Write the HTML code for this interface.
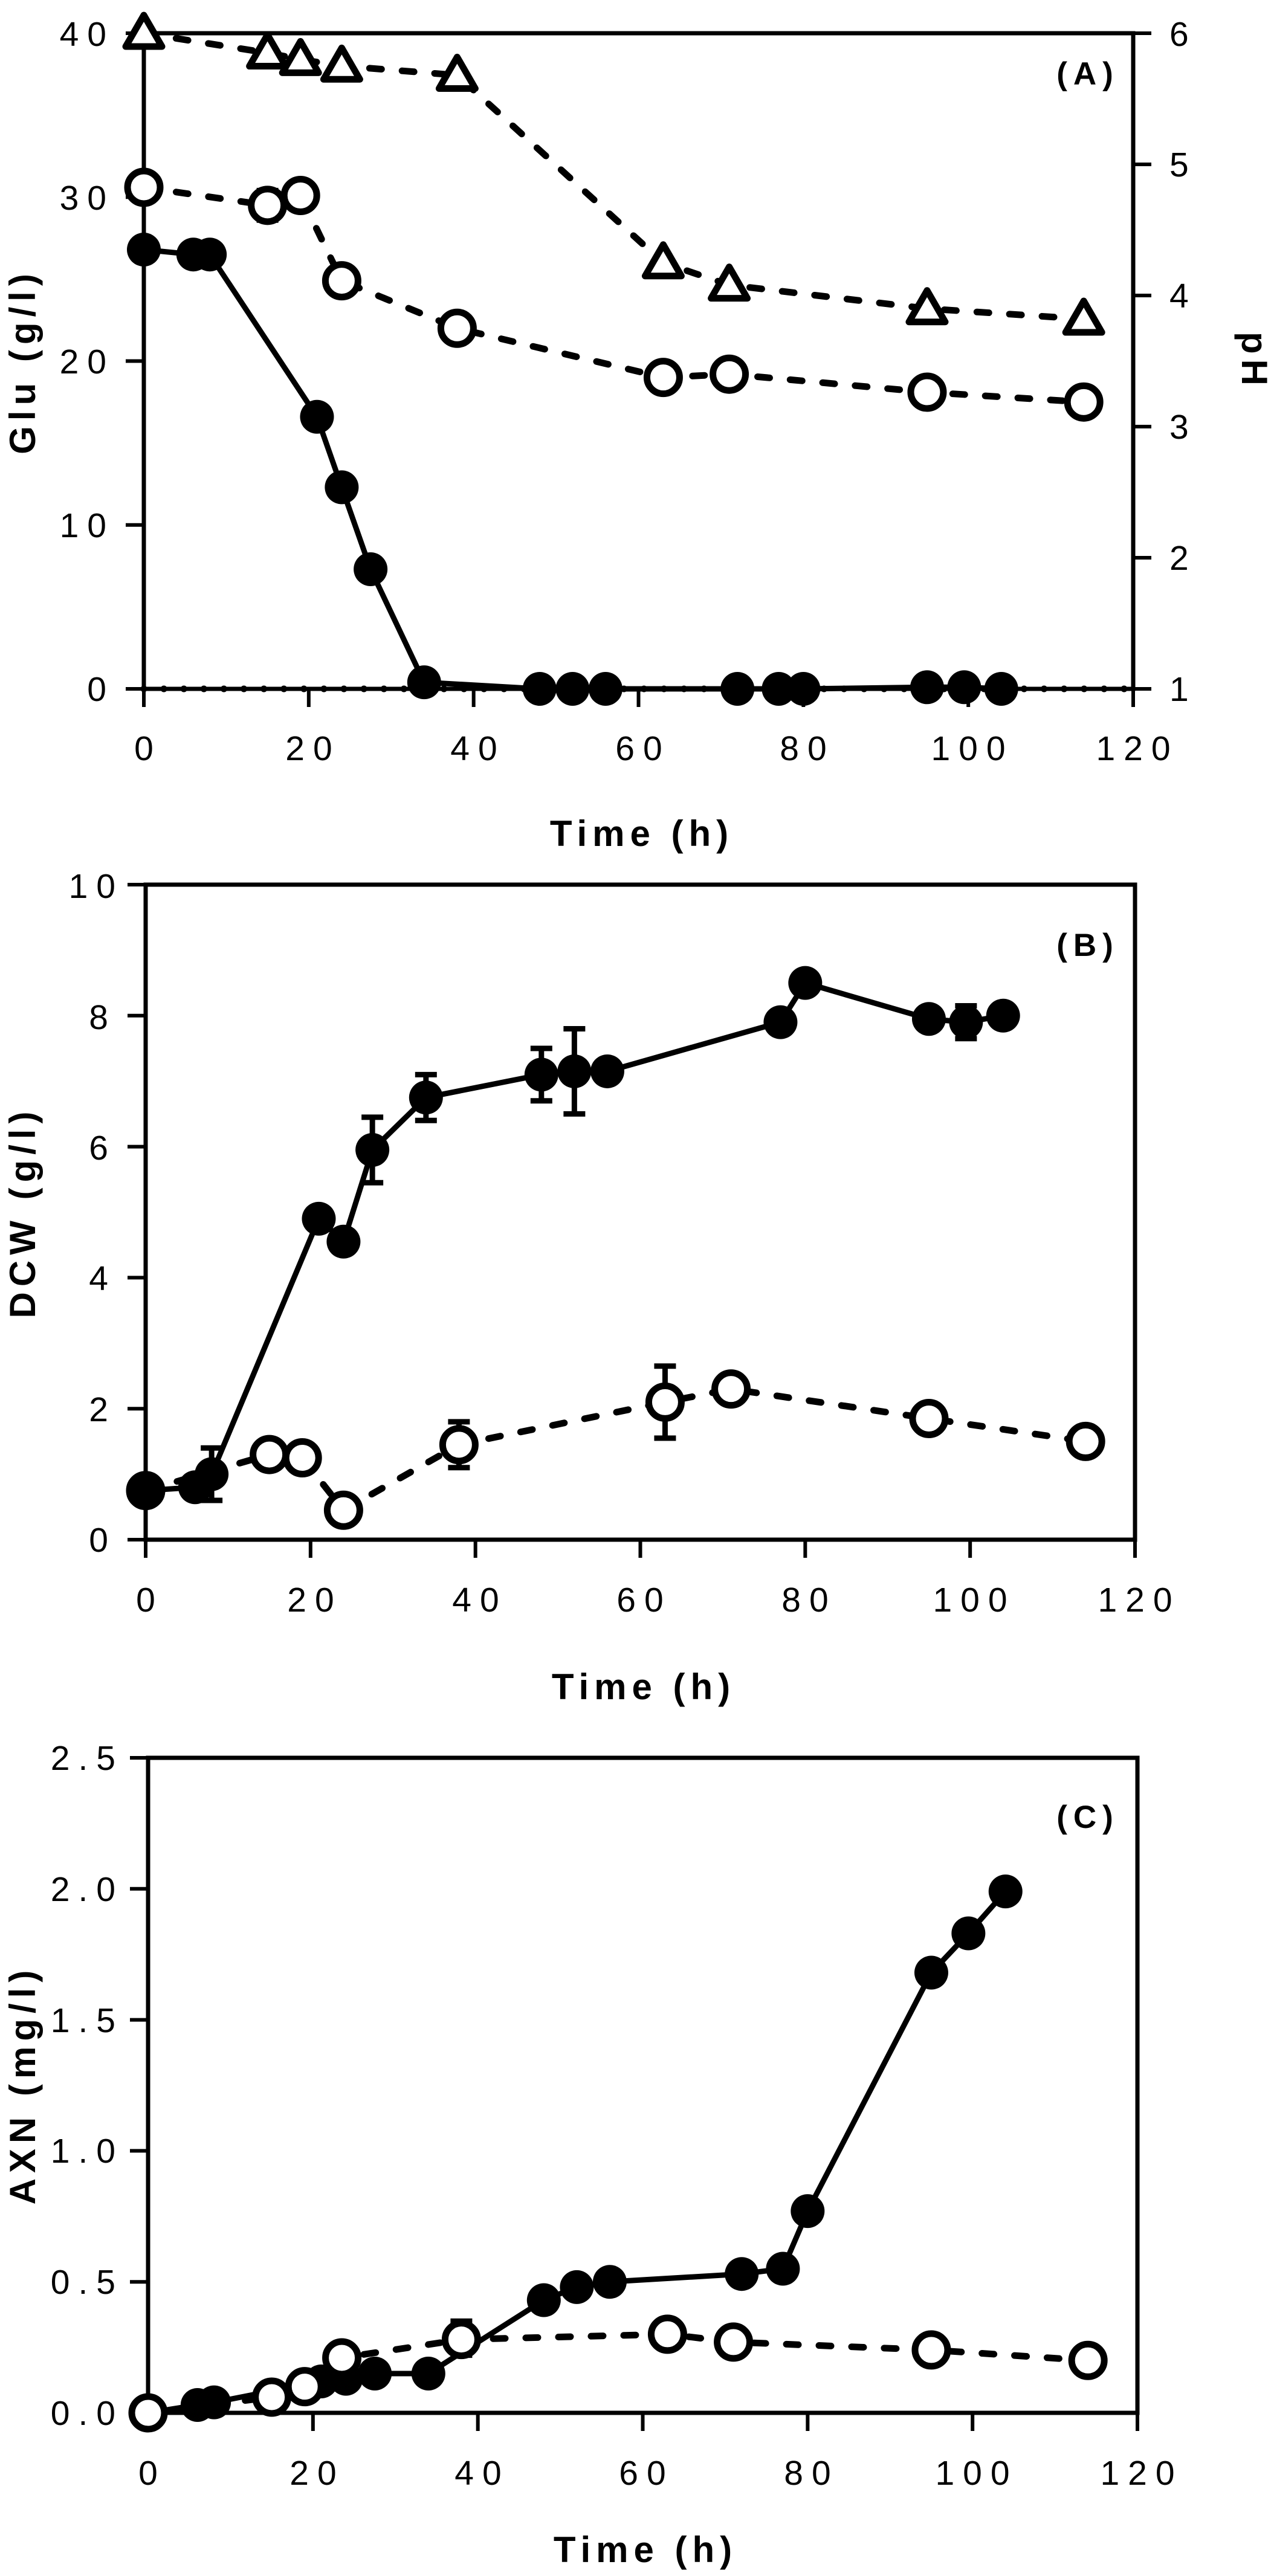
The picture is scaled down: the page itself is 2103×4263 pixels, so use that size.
<!DOCTYPE html>
<html><head><meta charset="utf-8"><style>
html,body{margin:0;padding:0;background:#fff}
svg{display:block}
text{font-family:"Liberation Sans",sans-serif;fill:#000}
.t{font-size:57px;letter-spacing:14px}
.b{font-size:60px;font-weight:bold;letter-spacing:9px}
.p{font-size:53px;font-weight:bold;letter-spacing:10px}
</style></head><body>
<svg id="s" width="2103" height="4263" viewBox="0 0 2103 4263" xmlns="http://www.w3.org/2000/svg">
<rect width="2103" height="4263" fill="#fff"/>
<g id="g"></g>
<g class="t" text-anchor="end">
<text x="190" y="1160">0</text><text x="190" y="889">10</text><text x="190" y="618">20</text><text x="190" y="347">30</text><text x="190" y="76">40</text>
</g>
<g class="t" text-anchor="start">
<text x="1935" y="1160">1</text><text x="1935" y="943">2</text><text x="1935" y="726">3</text><text x="1935" y="509">4</text><text x="1935" y="292">5</text><text x="1935" y="76">6</text>
</g>
<g class="t" text-anchor="middle">
<text x="245" y="1258">0</text><text x="518" y="1258">20</text><text x="791" y="1258">40</text><text x="1064" y="1258">60</text><text x="1336" y="1258">80</text><text x="1609" y="1258">100</text><text x="1882" y="1258">120</text>
</g>
<text class="b" x="1062" y="1400" text-anchor="middle">Time (h)</text>
<text class="b" transform="translate(58,598) rotate(-90)" text-anchor="middle">Glu (g/l)</text>
<text class="b" transform="translate(2055,598) rotate(90)" text-anchor="middle">pH</text>
<text class="p" x="1800" y="140" text-anchor="middle">(A)</text>

<g class="t" text-anchor="end">
<text x="193" y="2568">0</text><text x="193" y="2352">2</text><text x="193" y="2135">4</text><text x="193" y="1919">6</text><text x="193" y="1703">8</text><text x="205" y="1486">10</text>
</g>
<g class="t" text-anchor="middle">
<text x="248" y="2667">0</text><text x="521" y="2667">20</text><text x="794" y="2667">40</text><text x="1066" y="2667">60</text><text x="1339" y="2667">80</text><text x="1612" y="2667">100</text><text x="1885" y="2667">120</text>
</g>
<text class="b" x="1065" y="2812" text-anchor="middle">Time (h)</text>
<text class="b" transform="translate(58,2006) rotate(-90)" text-anchor="middle">DCW (g/l)</text>
<text class="p" x="1800" y="1582" text-anchor="middle">(B)</text>

<g class="t" text-anchor="end">
<text x="205" y="4013">0.0</text><text x="205" y="3796">0.5</text><text x="205" y="3579">1.0</text><text x="205" y="3363">1.5</text><text x="205" y="3146">2.0</text><text x="205" y="2929">2.5</text>
</g>
<g class="t" text-anchor="middle">
<text x="252" y="4112">0</text><text x="525" y="4112">20</text><text x="798" y="4112">40</text><text x="1070" y="4112">60</text><text x="1343" y="4112">80</text><text x="1616" y="4112">100</text><text x="1889" y="4112">120</text>
</g>
<text class="b" x="1068" y="4240" text-anchor="middle">Time (h)</text>
<text class="b" transform="translate(58,3450) rotate(-90)" text-anchor="middle">AXN (mg/l)</text>
<text class="p" x="1800" y="3025" text-anchor="middle">(C)</text>
</svg>
<script>
var NS="http://www.w3.org/2000/svg",G=document.getElementById("g");
function el(t,a){var e=document.createElementNS(NS,t);for(var k in a)e.setAttribute(k,a[k]);G.appendChild(e);return e;}
function panel(P){
 var X=function(x){return P.x0+(P.x1-P.x0)*x/120};
 P.X=X;
 el("path",{d:"M"+P.x0+","+P.yt+"V"+P.yb+"H"+P.x1+"V"+P.yt+"Z",fill:"none",stroke:"#000","stroke-width":7});
 for(var i=0;i<=6;i++){var x=X(i*20);el("line",{x1:x,y1:P.yb,x2:x,y2:P.yb+30,stroke:"#000","stroke-width":6});}
 for(var i=0;i<P.ny;i++){var y=P.yb-(P.yb-P.yt)*i/(P.ny-1);el("line",{x1:P.x0-30,y1:y,x2:P.x0,y2:y,stroke:"#000","stroke-width":6});}
 if(P.right){for(var i=0;i<6;i++){var y=P.yb-(P.yb-P.yt)*i/5;el("line",{x1:P.x1,y1:y,x2:P.x1+30,y2:y,stroke:"#000","stroke-width":6});}}
}
function series(P,data,Y,style,marker){
 var pts=data.map(function(d){return [P.X(d[0]),Y(d[1])]});
 var a={points:pts.map(function(p){return p.join(",")}).join(" "),fill:"none",stroke:"#000","stroke-width":style=="solid"?9:11,"stroke-linecap":"round","stroke-linejoin":"round"};
 if(style=="dash")a["stroke-dasharray"]="20 34";
 el("polyline",a);
 data.forEach(function(d,i){
  var p=pts[i];
  if(d[2]!=null){var y1=Y(d[2]),y2=Y(d[3]);el("path",{d:"M"+p[0]+","+y1+"V"+y2+"M"+(p[0]-18)+","+y1+"h36M"+(p[0]-18)+","+y2+"h36",stroke:"#000","stroke-width":9,fill:"none"});}
  if(marker=="f")el("circle",{cx:p[0],cy:p[1],r:28,fill:"#000"});
  else if(marker=="o")el("circle",{cx:p[0],cy:p[1],r:27,fill:"#fff",stroke:"#000","stroke-width":11});
  else if(marker=="t")el("path",{d:"M"+p[0]+","+(p[1]-30)+"L"+(p[0]+30)+","+(p[1]+22)+"L"+(p[0]-30)+","+(p[1]+22)+"Z",fill:"#fff",stroke:"#000","stroke-width":11,"stroke-linejoin":"round"});
 });
}
var A={x0:238,x1:1875,yt:55,yb:1140,ny:5,right:true};panel(A);
var YA=function(v){return 1140-v*27.125},YP=function(v){return 1140-(v-1)*217};
el("line",{x1:238,y1:1140,x2:1875,y2:1140,stroke:"#000","stroke-width":11,"stroke-dasharray":"0.1 33","stroke-linecap":"round"});
series(A,[[0,6.0],[15,5.85],[19,5.8],[24,5.75],[38,5.68],[63,4.25],[71,4.08],[95,3.9],[114,3.82]],YP,"dash","t");
series(A,[[0,30.6],[15,29.5,28.6,30.4],[19,30.1],[24,24.9],[38,22],[63,19],[71,19.2],[95,18.1],[114,17.5]],YA,"dash","o");
series(A,[[0,26.8],[6,26.5],[8,26.5],[21,16.6],[24,12.3],[27.5,7.3],[34,0.4],[48,0],[52,0],[56,0],[72,0],[77,0],[80,0],[95,0.1],[99.5,0.1],[104,0]],YA,"solid","f");
var B={x0:241,x1:1878,yt:1464,yb:2548,ny:6};panel(B);
var YB=function(v){return 2548-v*108.4};
series(B,[[0,0.75],[15,1.3],[19,1.25],[24,0.45],[38,1.45,1.1,1.8],[63,2.1,1.55,2.65],[71,2.3],[95,1.85],[114,1.5]],YB,"dash","o");
series(B,[[0,0.75],[6,0.8],[8,1.0,0.6,1.4],[21,4.9],[24,4.55],[27.5,5.95,5.45,6.45],[34,6.75,6.4,7.1],[48,7.1,6.7,7.5],[52,7.15,6.5,7.8],[56,7.15],[77,7.9],[80,8.5],[95,7.95],[99.5,7.9,7.65,8.15],[104,8.0]],YB,"solid","f");
var C={x0:245,x1:1882,yt:2909,yb:3993,ny:6};panel(C);
var YC=function(v){return 3993-v*433.6};
series(C,[[0,0],[6,0.03],[8,0.04],[21,0.12],[24,0.13],[27.5,0.15],[34,0.15],[48,0.43],[52,0.48],[56,0.5],[72,0.53],[77,0.55],[80,0.77],[95,1.68],[99.5,1.83],[104,1.99]],YC,"solid","f");
series(C,[[0,0],[15,0.06],[19,0.1],[23.5,0.21],[38,0.28,0.22,0.35],[63,0.3],[71,0.27],[95,0.24],[114,0.2]],YC,"dash","o");
</script>
</body></html>
